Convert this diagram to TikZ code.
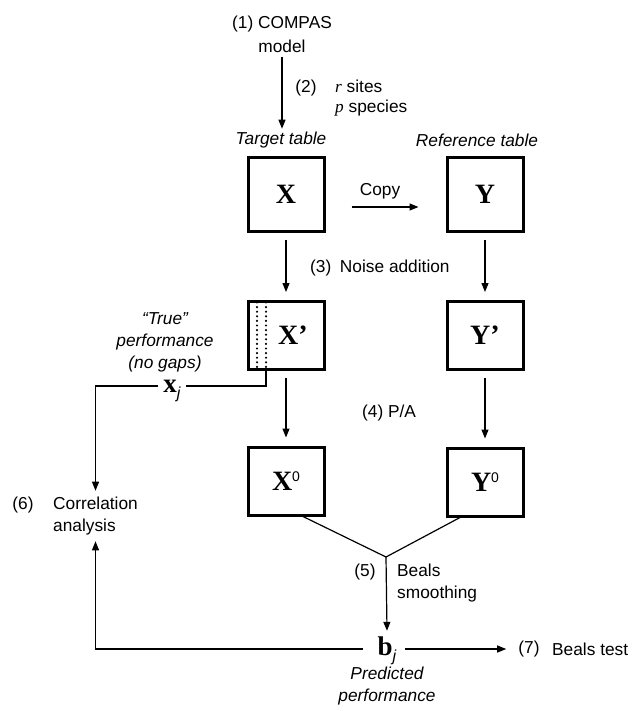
\documentclass[tikz,border=0pt]{standalone}
\usepackage{fontspec}
\setmainfont{Liberation Sans}
\newfontfamily\serifb{Liberation Serif}
\usetikzlibrary{arrows.meta}
\begin{document}
\begin{tikzpicture}[x=1pt,y=-1pt,
  txt/.style={font=\fontsize{17.3}{22}\selectfont, inner sep=0pt, align=left},
  itx/.style={font=\fontsize{17.3}{22}\selectfont\itshape, inner sep=0pt, align=center},
  tbl/.style={draw, line width=3pt, minimum width=76pt, minimum height=68pt, inner sep=0pt,
              font=\fontsize{28}{28}\selectfont\serifb\bfseries},
  arr/.style={line width=1.2pt, -{Triangle[length=9pt,width=7pt]}},
  ln/.style={line width=1.2pt},
  dots/.style={line width=2.4pt, line cap=round, dash pattern=on 0pt off 4.6pt},
  vec/.style={inner ysep=0pt, inner xsep=5pt, text height=16pt, text depth=4pt,
              font=\fontsize{27}{27}\selectfont\serifb\bfseries}]
\useasboundingbox (0,0) rectangle (640,711);
\newcommand{\supz}{\raisebox{9pt}{\normalfont\fontsize{14}{14}\selectfont 0}}
\newcommand{\subj}{\raisebox{-6pt}{\normalfont\itshape\fontsize{16}{16}\selectfont j}}

% texts
\node[txt, align=center, font=\fontsize{17.3}{24}\selectfont] (comp) at (282,34) {(1) COMPAS\\model};
\node[txt] (n2) at (306,88) {(2)};
\node[txt, anchor=west, font=\fontsize{17.3}{20}\selectfont] (rp) at (335,98) {{\serifb\itshape r} sites\\{\serifb\itshape p} species};
\node[itx] (tt) at (281,140) {Target table};
\node[itx] (rt) at (477,140) {Reference table};
\node[txt] (copy) at (380,191) {Copy};
\node[txt, anchor=west] (n3) at (310,268) {(3)\enspace Noise addition};
\node[txt, anchor=west] (n4) at (362,413) {(4) P/A};
\node[itx] (truep) at (165,342) {\textquotedblleft True\textquotedblright\\performance\\(no gaps)};
\node[txt] (n6) at (23,505) {(6)};
\node[txt, anchor=west] (corr) at (53,516) {Correlation\\analysis};
\node[txt] (n5) at (365,572) {(5)};
\node[txt, anchor=west] (beals) at (397,583) {Beals\\smoothing};
\node[itx] (pred) at (387,686) {Predicted\\performance};
\node[txt] (n7) at (529,649) {(7)};
\node[txt, anchor=west] (btest) at (552,649) {Beals test};

% tables
\node[tbl, minimum height=74pt] (X) at (286,194.5) {X};
\node[tbl, minimum height=74pt] (Y) at (485,194.5) {Y};
\node[tbl] (Xp) at (286,335.5) {\hspace*{14pt}X’};
\node[tbl] (Yp) at (485,335.5) {Y’};
\node[tbl] (X0) at (286,481) {X\supz};
\node[tbl] (Y0) at (485,482) {Y\supz};

% vectors
\node[vec] (xj) at (172,386) {x\subj};
\node[vec] (bj) at (387,649) {b\subj};

% dotted columns in X'
\coordinate (dc1t) at ([xshift=-29pt,yshift=-2.5pt]Xp.north);
\coordinate (dc1b) at ([xshift=-29pt,yshift=2pt]Xp.south);
\coordinate (dc) at ([xshift=-20pt]Xp.south);
\draw[dots] (dc1t) -- (dc1b);
\draw[dots] ([xshift=9pt]dc1t) -- ([xshift=9pt]dc1b);

% connectors
\draw[arr, shorten <=4pt, shorten >=3pt] (comp.south) -- (comp.south |- tt.north);
\draw[arr] ([xshift=26pt,yshift=-12.5pt]X.east) -- ([xshift=-27pt,yshift=-12.5pt]Y.west);
\draw[arr, shorten <=7pt, shorten >=8pt] (X) -- (Xp);
\draw[arr, shorten <=7pt, shorten >=8pt] (Y) -- (Yp);
\draw[arr, shorten <=7pt, shorten >=8pt] (Xp) -- (X0);
\draw[arr, shorten <=7pt, shorten >=8pt] (Yp) -- (Y0);
\draw[ln] (dc) |- (xj.east);
\draw[arr, shorten >=6pt] (xj.west) -| (corr.north);
\draw[arr, shorten <=10pt, shorten >=6pt] (bj.west) -| (corr.south);
\coordinate (J) at (386,557);
\draw[ln] ([xshift=17pt]X0.south) -- (J) -- ([xshift=-25pt]Y0.south);
\draw[arr] (J) -- ([yshift=8pt]bj.north);
\draw[arr, shorten <=4pt, shorten >=12pt] (bj.east) -- (n7.west);
\end{tikzpicture}
\end{document}
